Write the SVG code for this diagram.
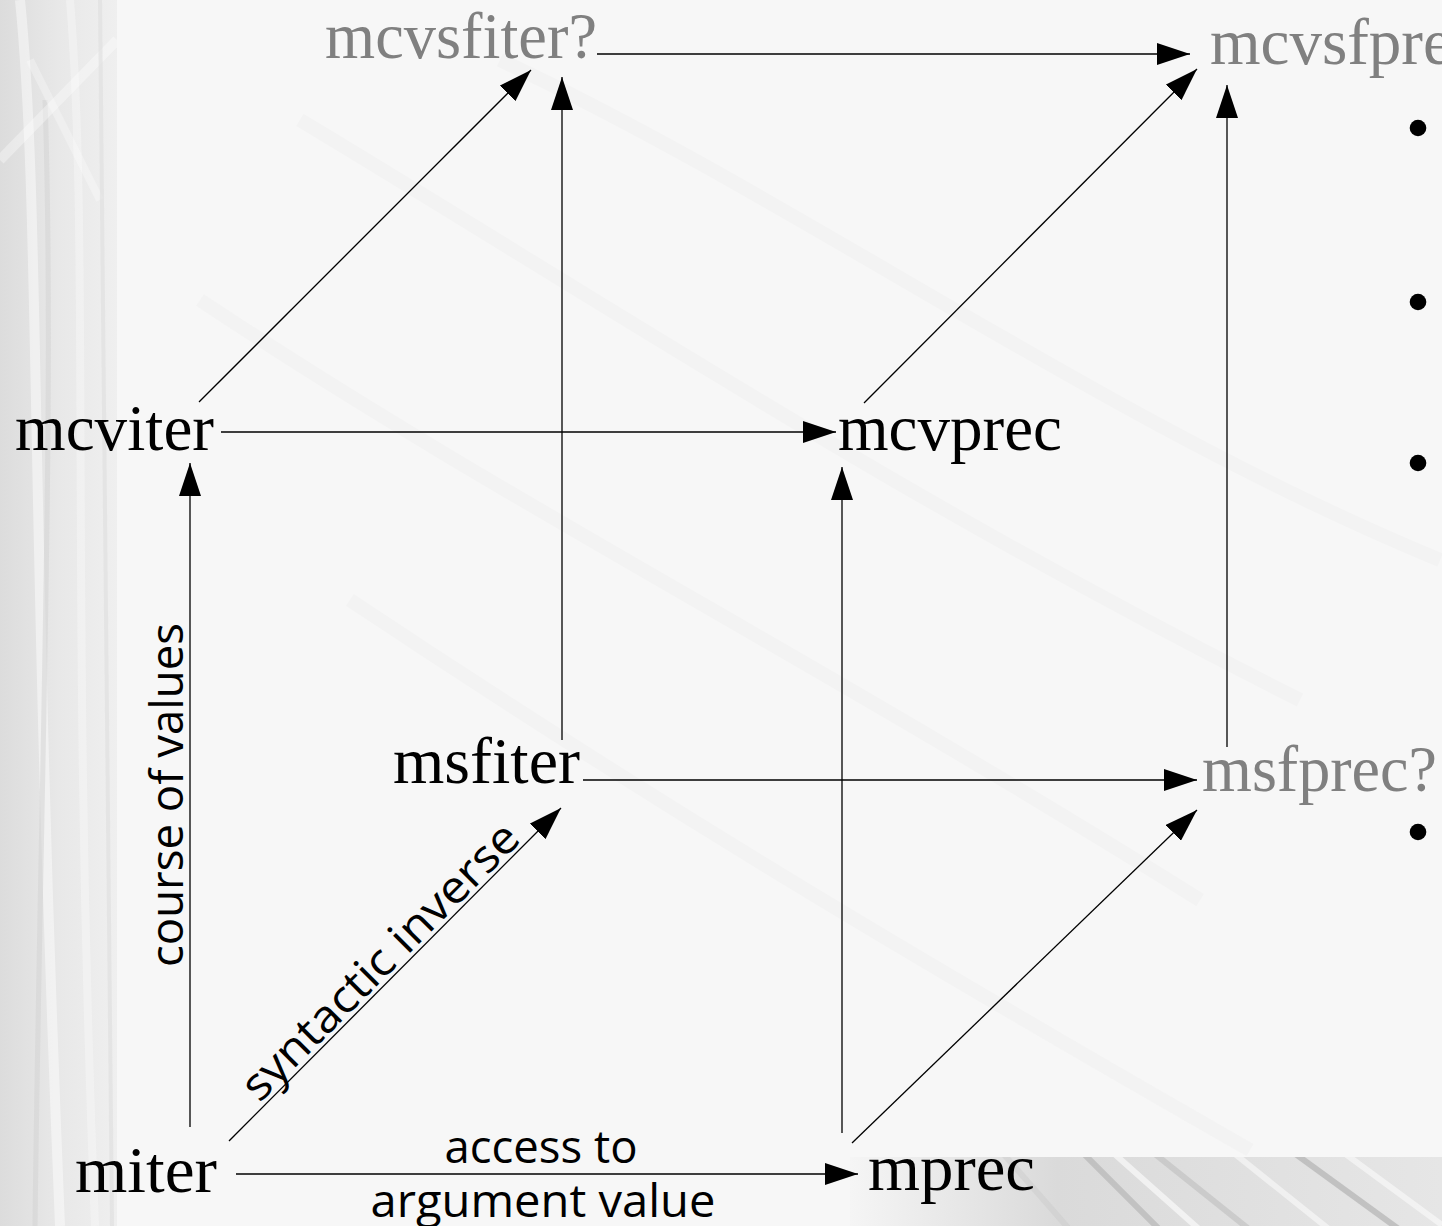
<svg xmlns="http://www.w3.org/2000/svg" width="1442" height="1226" viewBox="0 0 1442 1226">
  <defs>
    <style>
      .node { font-family: "Liberation Serif", "Times New Roman", serif; font-size: 65px; fill: #000; }
      .node.gray { fill: #808080; }
      .lbl { font-family: "Open Sans", "DejaVu Sans", sans-serif; font-size: 45px; fill: #000; }
      .edge { stroke: #000; stroke-width: 1.3; fill: none; marker-end: url(#arrow); }
      .bullet { fill: #000; }
    </style>
    <marker id="arrow" markerUnits="userSpaceOnUse" markerWidth="33" markerHeight="22" viewBox="0 0 33 22" refX="33" refY="11" orient="auto">
      <path d="M0,0 L33,11 L0,22 z" fill="#000"/>
    </marker>
    <linearGradient id="strip" x1="0" y1="0" x2="1" y2="0">
      <stop offset="0" stop-color="#dcdcdc"/>
      <stop offset="0.5" stop-color="#e8e8e8"/>
      <stop offset="1" stop-color="#efefef"/>
    </linearGradient>
    <linearGradient id="band" x1="0" y1="0" x2="1" y2="0">
      <stop offset="0" stop-color="#f5f5f5"/>
      <stop offset="0.35" stop-color="#dadada"/>
      <stop offset="1" stop-color="#e6e6e6"/>
    </linearGradient>
    <clipPath id="stripClip"><rect x="0" y="0" width="117" height="1226"/></clipPath>
    <clipPath id="bandClip"><rect x="850" y="1157" width="592" height="69"/></clipPath>
  </defs>

  <!-- background -->
  <g id="background">
    <rect x="0" y="0" width="1442" height="1226" fill="#f7f7f7"/>
    <g opacity="0.18" stroke="#e2e2e2" fill="none" stroke-width="14">
      <path d="M300,120 C600,300 900,500 1300,700"/>
      <path d="M200,300 C500,500 800,650 1200,900"/>
      <path d="M500,60 C800,200 1100,420 1440,560"/>
      <path d="M350,600 C650,800 900,950 1250,1150"/>
    </g>
    <rect x="0" y="0" width="117" height="1226" fill="url(#strip)"/>
    <g clip-path="url(#stripClip)" fill="none">
      <path d="M20,0 C40,200 30,500 60,1226" stroke="#ffffff" stroke-width="10" opacity="0.45"/>
      <path d="M70,0 C90,250 70,600 95,1226" stroke="#f8f8f8" stroke-width="8" opacity="0.45"/>
      <path d="M45,100 C55,400 40,800 35,1226" stroke="#d2d2d2" stroke-width="5" opacity="0.5"/>
      <path d="M0,160 L117,40" stroke="#ffffff" stroke-width="10" opacity="0.35"/>
      <path d="M30,60 L100,200" stroke="#ffffff" stroke-width="8" opacity="0.3"/>
      <path d="M100,0 C105,300 110,700 112,1226" stroke="#dedede" stroke-width="4" opacity="0.6"/>
    </g>
    <rect x="850" y="1157" width="592" height="69" fill="url(#band)"/>
    <g clip-path="url(#bandClip)" fill="none" stroke-width="6">
      <path d="M1080,1150 L1160,1230" stroke="#a8a8a8" opacity="0.5"/>
      <path d="M1110,1150 L1200,1230" stroke="#ffffff" opacity="0.6"/>
      <path d="M1150,1150 L1250,1230" stroke="#b8b8b8" opacity="0.5"/>
      <path d="M1230,1150 L1330,1230" stroke="#ffffff" opacity="0.5"/>
      <path d="M1290,1150 L1400,1230" stroke="#a0a0a0" opacity="0.5"/>
      <path d="M1340,1150 L1442,1225" stroke="#ffffff" opacity="0.5"/>
      <path d="M1000,1150 L1070,1230" stroke="#c8c8c8" opacity="0.4"/>
    </g>
  </g>

  <!-- connectors -->
  <g id="connectors">
    <line class="edge" x1="597" y1="54" x2="1190" y2="54"/>
    <line class="edge" x1="199" y1="402" x2="531" y2="70"/>
    <line class="edge" x1="562" y1="740" x2="562" y2="77"/>
    <line class="edge" x1="864" y1="403" x2="1197" y2="69"/>
    <line class="edge" x1="1227" y1="747" x2="1227" y2="85"/>
    <line class="edge" x1="221" y1="432" x2="836" y2="432"/>
    <line class="edge" x1="190" y1="1127" x2="190" y2="463"/>
    <line class="edge" x1="842" y1="1133" x2="842" y2="467"/>
    <line class="edge" x1="583" y1="780" x2="1197" y2="780"/>
    <line class="edge" x1="229" y1="1141" x2="561" y2="808"/>
    <line class="edge" x1="236" y1="1174" x2="858" y2="1174"/>
    <line class="edge" x1="852" y1="1143" x2="1197" y2="810"/>
  </g>

  <!-- edge labels -->
  <g id="labels">
    <text class="lbl" transform="translate(183,795) rotate(-90)" text-anchor="middle" textLength="344" lengthAdjust="spacingAndGlyphs">course of values</text>
    <text class="lbl" transform="translate(391,972) rotate(-45)" text-anchor="middle" textLength="372" lengthAdjust="spacingAndGlyphs">syntactic inverse</text>
    <text class="lbl" x="541" y="1163" text-anchor="middle" textLength="193" lengthAdjust="spacingAndGlyphs">access to</text>
    <text class="lbl" x="543" y="1217" text-anchor="middle" textLength="345" lengthAdjust="spacingAndGlyphs">argument value</text>
  </g>

  <!-- nodes -->
  <g id="node-mcvsfiter"><text class="node gray" x="325" y="58" textLength="272" lengthAdjust="spacingAndGlyphs">mcvsfiter?</text></g>
  <g id="node-mcvsfprec"><text class="node gray" x="1210" y="64">mcvsfprec?</text></g>
  <g id="node-mcviter"><text class="node" x="15" y="450" textLength="199" lengthAdjust="spacingAndGlyphs">mcviter</text></g>
  <g id="node-mcvprec"><text class="node" x="838" y="450" textLength="224" lengthAdjust="spacingAndGlyphs">mcvprec</text></g>
  <g id="node-msfiter"><text class="node" x="393" y="783" textLength="187" lengthAdjust="spacingAndGlyphs">msfiter</text></g>
  <g id="node-msfprec"><text class="node gray" x="1202" y="791" textLength="235" lengthAdjust="spacingAndGlyphs">msfprec?</text></g>
  <g id="node-miter"><text class="node" x="75" y="1192" textLength="142" lengthAdjust="spacingAndGlyphs">miter</text></g>
  <g id="node-mprec"><text class="node" x="868" y="1190" textLength="167" lengthAdjust="spacingAndGlyphs">mprec</text></g>

  <!-- bullets -->
  <g id="bullets">
    <circle class="bullet" cx="1418" cy="128" r="8.3"/>
    <circle class="bullet" cx="1418" cy="302" r="8.3"/>
    <circle class="bullet" cx="1418" cy="463" r="8.3"/>
    <circle class="bullet" cx="1418" cy="832" r="8.3"/>
  </g>
</svg>
